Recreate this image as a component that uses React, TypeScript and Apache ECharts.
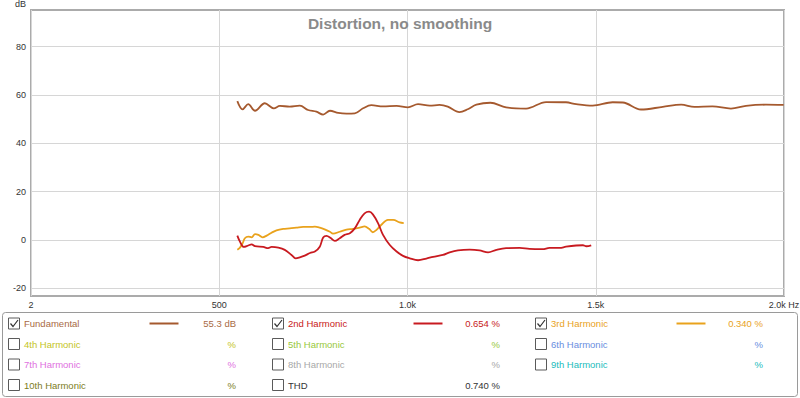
import React, { useEffect, useRef } from "react";
import * as echarts from "echarts";

// ---- Data ----
const fundFreq = [548, 562, 577, 595, 621, 645, 661, 687, 714, 736, 758, 776, 794, 816, 838, 860, 882, 904, 935, 971, 1001, 1028, 1059, 1085, 1107, 1138, 1160, 1183, 1220, 1262, 1315, 1368, 1421, 1448, 1492, 1545, 1572, 1620, 1678, 1727, 1762, 1810, 1859, 1899, 1952, 1999];
const fundDb = [57.5, 54.1, 56.2, 53.5, 56.6, 54.5, 55.5, 55.2, 55.6, 53.8, 53.1, 51.9, 53.5, 52.6, 52.3, 52.4, 54.5, 55.8, 55.3, 55.5, 54.9, 56.2, 55.6, 55.9, 55.2, 52.9, 54.1, 56.0, 56.8, 54.9, 54.4, 57.1, 57.0, 56.2, 55.6, 57.0, 56.9, 54.0, 55.1, 56.0, 55.1, 55.3, 54.4, 55.5, 56.0, 55.9];

const h2Freq = [548, 555, 565, 577, 586, 595, 617, 630, 639, 657, 674, 692, 703, 714, 727, 741, 754, 767, 776, 785, 796, 807, 820, 833, 847, 860, 873, 886, 898, 908, 922, 935, 953, 971, 988, 1006, 1028, 1050, 1068, 1094, 1112, 1134, 1165, 1191, 1214, 1236, 1262, 1298, 1324, 1359, 1377, 1404, 1421, 1448, 1466, 1475, 1488];
const h2Db = [1.8, -0.7, -2.9, -2.3, -1.8, -2.6, -2.9, -3.4, -2.9, -3.2, -4.1, -6.2, -7.6, -7.2, -6.5, -5.4, -4.8, -2.8, 1.0, 1.7, 0.8, -0.4, 0.7, 2.1, 2.8, 4.8, 8.3, 11.0, 11.7, 10.6, 6.9, 2.1, -2.1, -4.8, -6.6, -7.6, -8.4, -7.7, -7.0, -6.2, -5.1, -4.3, -4.0, -4.3, -5.1, -4.1, -3.4, -3.3, -3.7, -3.8, -3.3, -3.3, -2.8, -2.3, -2.2, -2.6, -2.2];

const h3Freq = [548, 555, 562, 568, 577, 586, 595, 604, 615, 626, 639, 652, 670, 687, 705, 723, 741, 754, 767, 780, 794, 802, 820, 838, 855, 873, 886, 898, 908, 917, 930, 948, 962, 979, 990];
const h3Db = [-4.1, -3.2, -1.4, 0.7, 1.4, 1.1, 2.4, 2.1, 1.1, 1.8, 3.0, 4.0, 4.6, 4.8, 5.1, 5.4, 5.4, 5.5, 5.1, 4.4, 3.4, 2.6, 3.4, 4.3, 4.6, 5.1, 5.6, 4.6, 3.2, 4.1, 6.2, 8.3, 8.3, 7.3, 7.0];

const xTickValues = [0, 500, 1000, 1500, 2000];
const xTickLabels = ["2", "500", "1.0k", "1.5k", "2.0k Hz"];

const legendNames = ["Fundamental", "2nd Harmonic", "3rd Harmonic", "4th Harmonic", "5th Harmonic", "6th Harmonic", "7th Harmonic", "8th Harmonic", "9th Harmonic", "10th Harmonic", "THD"];
const legendValues = ["55.3 dB", "0.654 %", "0.340 %", "%", "%", "%", "%", "%", "%", "%", "0.740 %"];
const legendChecked = [true, true, true, false, false, false, false, false, false, false, false];
const legendColors = ["#a5592e", "#c81a20", "#e9a21c", "#c4c41c", "#98c83a", "#6a8ee0", "#e070e0", "#a8a8a8", "#22bcbc", "#7c7c22", "#333333"];
const legendTextColors = ["#a86a44", "#c81a20", "#e9a21c", "#c4c41c", "#98c83a", "#6a8ee0", "#e070e0", "#a8a8a8", "#22bcbc", "#7c7c22", "#333333"];

const FONT = '"Liberation Sans", Arial, sans-serif';

function pairs(xs: number[], ys: number[]) {
  return xs.map((x, i) => [x, ys[i]]);
}

function buildLegend() {
  const colX = [8.5, 272.5, 535.5];
  const rowY = [323.5, 344, 364.5, 385];
  const children: any[] = [
    {
      type: "rect",
      shape: { x: 2.5, y: 312.5, width: 795, height: 84, r: 3 },
      style: { fill: "#fff", stroke: "#9a9a9a", lineWidth: 1 },
    },
  ];
  legendNames.forEach((name, i) => {
    const cx = colX[i % 3];
    const cy = rowY[Math.floor(i / 3)];
    children.push({
      type: "rect",
      shape: { x: cx, y: cy - 5.5, width: 11, height: 11 },
      style: { fill: "#fff", stroke: "#5a5a5a", lineWidth: 1 },
    });
    if (legendChecked[i]) {
      children.push({
        type: "polyline",
        shape: { points: [[cx + 2, cy], [cx + 4.5, cy + 3], [cx + 9.5, cy - 3.5]] },
        style: { stroke: "#333", lineWidth: 1.2, fill: null },
      });
      children.push({
        type: "line",
        shape: { x1: cx + 141, y1: cy, x2: cx + 170, y2: cy },
        style: { stroke: legendColors[i], lineWidth: 2 },
      });
    }
    children.push({
      type: "text",
      x: cx + 15.5,
      y: cy,
      style: { text: name, fill: legendTextColors[i], fontSize: 9.5, fontFamily: FONT, align: "left", verticalAlign: "middle" },
    });
    children.push({
      type: "text",
      x: cx + 227.5,
      y: cy,
      style: { text: legendValues[i], fill: legendTextColors[i], fontSize: 9.5, fontFamily: FONT, align: "right", verticalAlign: "middle" },
    });
  });
  return children;
}

export default function App() {
  const ref = useRef<HTMLDivElement>(null);
  useEffect(() => {
    if (!ref.current) return;
    const chart = echarts.init(ref.current, undefined, { renderer: "svg" });
    const gLeft = 31;
    const gWidth = 753;
    const yMin = -23.2;
    const yMax = 95.2;
    const gTop = 10;
    const gHeight = 286;
    const pxPer = gHeight / (yMax - yMin);
    const g2Top = gTop + (yMax - 80) * pxPer;
    const g2Height = 100 * pxPer;
    const lineCommon = { type: "line", showSymbol: false, smooth: 0.35, xAxisIndex: 0, yAxisIndex: 0, silent: true };
    chart.setOption({
      animation: false,
      backgroundColor: "#fff",
      title: {
        text: "Distortion, no smoothing",
        left: "center",
        top: 10,
        textStyle: { fontSize: 15.5, fontWeight: "bold", color: "#8a8a8a", fontFamily: FONT },
      },
      grid: [
        { left: gLeft, top: gTop, width: gWidth, height: gHeight, show: true, borderColor: "#ababab", borderWidth: 2, backgroundColor: "transparent", z: 0, containLabel: false, outerBoundsMode: "none" },
        { left: gLeft, top: g2Top, width: gWidth, height: g2Height, show: false, containLabel: false, outerBoundsMode: "none" },
      ],
      xAxis: [
        {
          type: "value",
          gridIndex: 0,
          min: 0,
          max: 2000,
          interval: 500,
          axisLine: { show: false },
          axisTick: { show: false },
          splitLine: { show: true, lineStyle: { color: "#d6d6d6", width: 1 } },
          axisLabel: {
            fontSize: 9,
            color: "#333",
            fontFamily: FONT,
            margin: 4,
            hideOverlap: false,
            formatter: (v: number) => {
              const idx = xTickValues.indexOf(v);
              if (idx < 0) return "";
              if (idx === xTickValues.length - 1) return "{hz|" + xTickLabels[idx] + "}";
              return xTickLabels[idx];
            },
            rich: { hz: { fontSize: 9, color: "#333", fontFamily: FONT, padding: [0, 0, 0, 0] } },
          },
        },
        { type: "value", gridIndex: 1, min: 0, max: 2000, show: false },
      ],
      yAxis: [
        { type: "value", gridIndex: 0, min: yMin, max: yMax, show: false, splitLine: { show: false } },
        {
          type: "value",
          gridIndex: 1,
          min: -20,
          max: 80,
          interval: 20,
          axisLine: { show: false },
          axisTick: { show: false },
          splitLine: { show: true, lineStyle: { color: "#d6d6d6", width: 1 } },
          axisLabel: { fontSize: 9, color: "#333", fontFamily: FONT, margin: 5 },
        },
      ],
      series: [
        { ...lineCommon, name: "Fundamental", data: pairs(fundFreq, fundDb), lineStyle: { color: legendColors[0], width: 1.8 }, itemStyle: { color: legendColors[0] } },
        { ...lineCommon, name: "3rd Harmonic", data: pairs(h3Freq, h3Db), lineStyle: { color: legendColors[2], width: 1.8 }, itemStyle: { color: legendColors[2] } },
        { ...lineCommon, name: "2nd Harmonic", data: pairs(h2Freq, h2Db), lineStyle: { color: legendColors[1], width: 1.8 }, itemStyle: { color: legendColors[1] } },
      ],
      graphic: [
        {
          type: "text",
          x: 26,
          y: 4,
          style: { text: "dB", fill: "#333", fontSize: 9, fontFamily: FONT, align: "right", verticalAlign: "middle" },
        },
        { type: "group", children: buildLegend() },
      ],
    });
    return () => chart.dispose();
  }, []);
  return <div ref={ref} style={{ position: "absolute", left: 0, top: 0, width: 800, height: 398 }} />;
}
